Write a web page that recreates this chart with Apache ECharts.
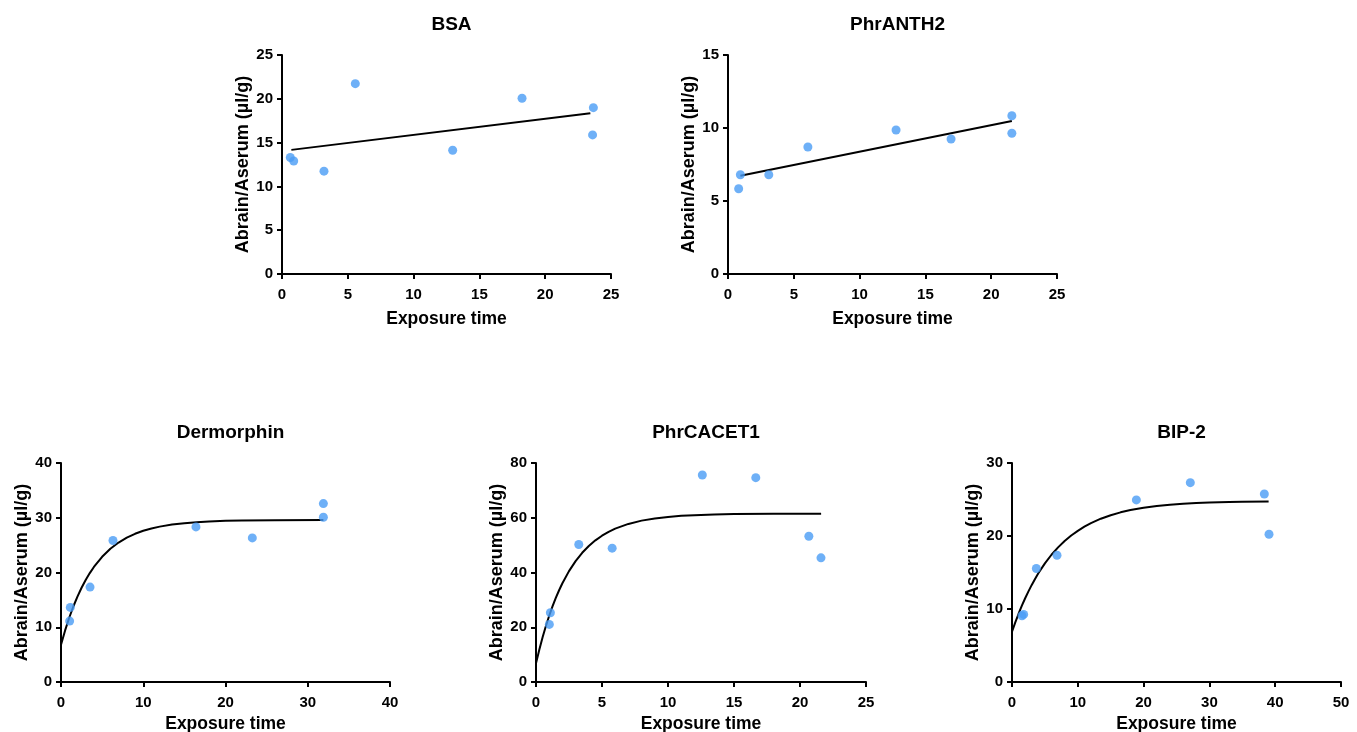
<!DOCTYPE html>
<html>
<head>
<meta charset="utf-8">
<script src="https://cdn.jsdelivr.net/npm/echarts@6/dist/echarts.min.js"></script>
<style>html,body{margin:0;padding:0;background:#fff;}#c{width:1357px;height:732px;}</style>
</head>
<body>
<div id="c"></div>
<script>
// Panel titles
const titles = ['BSA', 'PhrANTH2', 'Dermorphin', 'PhrCACET1', 'BIP-2'];
const xAxisName = 'Exposure time';
const yAxisName = 'Abrain/Aserum (\u00b5l/g)';

// Axis ranges
const xMax = [25, 25, 40, 25, 50];
const xStep = [5, 5, 10, 5, 10];
const yMax = [25, 15, 40, 80, 30];
const yStep = [5, 5, 10, 20, 10];

// Measured points [exposure time, ratio]
const bsaPts = [[0.63,13.3],[0.89,12.9],[3.19,11.74],[5.57,21.73],[12.97,14.13],[18.24,20.06],[23.66,18.99],[23.6,15.88]];
const anthPts = [[0.81,5.84],[0.94,6.8],[3.1,6.8],[6.07,8.7],[12.77,9.86],[16.95,9.25],[21.57,10.84],[21.57,9.64]];
const dermPts = [[1.05,11.12],[1.13,13.62],[3.53,17.33],[6.32,25.84],[16.41,28.33],[23.26,26.32],[31.9,32.58],[31.9,30.09]];
const cacetPts = [[1.01,21.03],[1.09,25.29],[3.24,50.21],[5.77,48.88],[12.6,75.62],[16.65,74.65],[20.67,53.25],[21.59,45.35]];
const bipPts = [[1.52,9.07],[1.77,9.26],[3.7,15.55],[6.84,17.37],[18.9,24.94],[27.1,27.31],[38.35,25.76],[39.06,20.24]];

// Fitted lines
const bsaFit = [[0.71,14.17],[23.43,18.35]];
const anthFit = [[0.94,6.73],[21.57,10.48]];
const dermFit = [[0,6.8],[0.5,9.42],[1,11.74],[1.5,13.79],[2,15.6],[2.5,17.21],[3,18.63],[3.5,19.89],[4,21.01],[5,22.87],[6,24.33],[7,25.47],[8,26.36],[9,27.07],[10,27.62],[11,28.04],[12,28.38],[13.5,28.75],[15,29.01],[16.5,29.19],[18,29.32],[20,29.43],[22,29.49],[26,29.56],[31.9,29.6]];
const cacetFit = [[0,6.8],[0.25,11.79],[0.5,16.33],[0.75,20.45],[1,24.2],[1.25,27.61],[1.5,30.7],[1.75,33.51],[2,36.07],[2.5,40.51],[3,44.16],[3.5,47.19],[4,49.68],[4.5,51.74],[5,53.44],[5.5,54.84],[6,56.01],[7,57.75],[8,58.95],[9,59.76],[10,60.31],[11,60.69],[12,60.95],[13.5,61.19],[15,61.33],[18,61.45],[21.6,61.5]];
const bipFit = [[0,6.88],[0.5,8.16],[1,9.35],[1.5,10.45],[2,11.47],[2.5,12.42],[3,13.3],[3.5,14.12],[4,14.89],[5,16.25],[6,17.43],[7,18.44],[8,19.31],[9,20.07],[10,20.71],[11,21.28],[12,21.77],[13.5,22.37],[15,22.85],[16.5,23.24],[18,23.55],[20,23.87],[22,24.11],[24,24.29],[26,24.42],[28,24.52],[30,24.59],[33,24.67],[35,24.7],[39,24.74]];

const allPts = [bsaPts, anthPts, dermPts, cacetPts, bipPts];
const allFits = [bsaFit, anthFit, dermFit, cacetFit, bipFit];

// Layout (pixels)
const grids = [
  {left: 282, top: 55, width: 329, height: 219},
  {left: 728, top: 55, width: 329, height: 219},
  {left: 61, top: 463, width: 329, height: 219},
  {left: 536, top: 463, width: 330, height: 219},
  {left: 1012, top: 463, width: 329, height: 219}
];
const titleTops = [10, 10, 418, 418, 418];
const xNameGaps = [36, 36, 33, 33, 33];

const FONT = '"Liberation Sans", Arial, sans-serif';
const axisLine = {show: true, lineStyle: {color: '#000', width: 2}};
const axisTick = {show: true, length: 5, lineStyle: {color: '#000', width: 2}};
const axisLabel = {color: '#000', fontWeight: 'bold', fontSize: 15, fontFamily: FONT};

const option = {
  animation: false,
  backgroundColor: '#fff',
  title: titles.map((t, i) => ({
    text: t,
    left: grids[i].left + grids[i].width / 2,
    top: titleTops[i],
    textAlign: 'center',
    textStyle: {fontSize: 19, fontWeight: 'bold', color: '#000', fontFamily: FONT}
  })),
  grid: grids.map(g => Object.assign({containLabel: false, outerBoundsMode: 'none'}, g)),
  xAxis: grids.map((g, i) => ({
    type: 'value', gridIndex: i, min: 0, max: xMax[i], interval: xStep[i],
    name: xAxisName, nameLocation: 'middle', nameGap: xNameGaps[i],
    nameTextStyle: {fontSize: 17.5, fontWeight: 'bold', color: '#000', fontFamily: FONT},
    axisLine, axisTick, axisLabel: Object.assign({margin: 13}, axisLabel),
    splitLine: {show: false}
  })),
  yAxis: grids.map((g, i) => ({
    type: 'value', gridIndex: i, min: 0, max: yMax[i], interval: yStep[i],
    name: yAxisName, nameLocation: 'middle', nameGap: 27, nameRotate: 90,
    nameTextStyle: {fontSize: 18, fontWeight: 'bold', color: '#000', fontFamily: FONT},
    axisLine, axisTick, axisLabel: Object.assign({margin: 9}, axisLabel),
    splitLine: {show: false}
  })),
  series: []
};

allFits.forEach((fit, i) => {
  option.series.push({
    type: 'line', xAxisIndex: i, yAxisIndex: i, data: fit,
    smooth: false, showSymbol: false, symbol: 'none',
    lineStyle: {color: '#000', width: 2, join: 'round'}, z: 2
  });
});
allPts.forEach((pts, i) => {
  option.series.push({
    type: 'scatter', xAxisIndex: i, yAxisIndex: i, data: pts,
    symbol: 'circle', symbolSize: 9,
    itemStyle: {color: '#4A9CF5'}, z: 3
  });
});

const chart = echarts.init(document.getElementById('c'), null, {renderer: 'canvas'});
chart.setOption(option);
</script>
</body>
</html>
